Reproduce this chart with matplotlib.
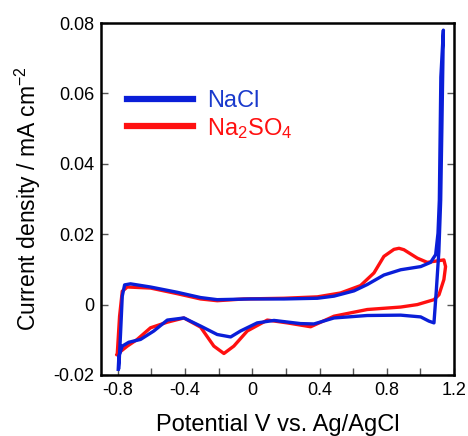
import numpy as np
import matplotlib
matplotlib.use("Agg")
import matplotlib.pyplot as plt
from matplotlib.ticker import MultipleLocator

# NaCl cyclic voltammogram (potential V vs Ag/AgCl, current density mA cm-2)
nacl_v = [-0.794, -0.784, -0.774, -0.760, -0.725, -0.606, -0.447, -0.308, -0.209, -0.010,
          0.188, 0.387, 0.486, 0.605, 0.684, 0.783, 0.883, 1.002, 1.061, 1.091, 1.105,
          1.113, 1.122, 1.137,
          1.128, 1.121, 1.110, 1.095, 1.081, 1.051, 1.002, 0.883, 0.684, 0.486, 0.367,
          0.287, 0.129, 0.029, -0.070, -0.129, -0.209, -0.308, -0.407, -0.506, -0.586,
          -0.665, -0.735, -0.774, -0.794, -0.798]
nacl_i = [-0.0179, -0.0080, 0.0024, 0.0056, 0.0059, 0.0050, 0.0035, 0.0020, 0.0014, 0.0016,
          0.0016, 0.0018, 0.0024, 0.0039, 0.0057, 0.0084, 0.0099, 0.0108, 0.0120, 0.0142, 0.0203,
          0.0297, 0.0647, 0.0780,
          0.0500, 0.0297, 0.0150, 0.0040, -0.0052, -0.0047, -0.0035, -0.0030, -0.0031, -0.0038, -0.0055,
          -0.0054, -0.0045, -0.0052, -0.0075, -0.0092, -0.0085, -0.0061, -0.0038, -0.0044, -0.0075,
          -0.0099, -0.0107, -0.0118, -0.0146, -0.0184]

# Na2SO4 cyclic voltammogram
na2so4_v = [-0.804, -0.790, -0.774, -0.744, -0.606, -0.447, -0.308, -0.209, -0.050, 0.188,
            0.387, 0.525, 0.644, 0.724, 0.783, 0.843, 0.873, 0.902, 0.982, 1.041, 1.140, 1.150,
            1.140, 1.111, 1.081, 0.982, 0.883, 0.684, 0.486, 0.347, 0.208, 0.089, -0.030,
            -0.110, -0.169, -0.229, -0.308, -0.407, -0.506, -0.606, -0.685, -0.744, -0.794, -0.804]
na2so4_i = [-0.0142, -0.0033, 0.0038, 0.0050, 0.0047, 0.0031, 0.0016, 0.0011, 0.0016, 0.0018,
            0.0022, 0.0033, 0.0054, 0.0090, 0.0137, 0.0157, 0.0160, 0.0156, 0.0132, 0.0120, 0.0127, 0.0108,
            0.0071, 0.0028, 0.0014, 0.0000, -0.0007, -0.0014, -0.0033, -0.0063, -0.0052, -0.0044, -0.0075,
            -0.0118, -0.0139, -0.0118, -0.0064, -0.0038, -0.0050, -0.0066, -0.0099, -0.0118, -0.0137, -0.0142]

xticks = [-0.8, -0.4, 0, 0.4, 0.8, 1.2]
xtick_labels = ["-0.8", "-0.4", "0", "0.4", "0.8", "1.2"]
yticks = [-0.02, 0, 0.02, 0.04, 0.06, 0.08]
ytick_labels = ["-0.02", "0", "0.02", "0.04", "0.06", "0.08"]

blue = "#0a1ed8"
red = "#ff1010"

plt.rcParams["font.family"] = ["Liberation Sans", "DejaVu Sans"]
plt.rcParams["mathtext.default"] = "regular"

fig = plt.figure(figsize=(4.68, 4.36), dpi=100)
ax = fig.add_axes([0.216, 0.140, 0.754, 0.807])

ax.plot(na2so4_v, na2so4_i, color=red, lw=2.4, solid_joinstyle="round", label="Na$_2$SO$_4$", zorder=2)
ax.plot(nacl_v, nacl_i, color=blue, lw=2.4, solid_joinstyle="round", label="NaCl", zorder=3)

ax.set_xlim(-0.9, 1.2)
ax.set_ylim(-0.02, 0.08)
ax.set_xticks(xticks)
ax.set_xticklabels(xtick_labels)
ax.set_yticks(yticks)
ax.set_yticklabels(ytick_labels)
ax.xaxis.set_minor_locator(MultipleLocator(0.2))
ax.tick_params(which="both", direction="in", length=5, width=1, color="#555555",
               labelsize=13, right=True, top=False, pad=5)

for s in ax.spines.values():
    s.set_linewidth(1.8)

ax.set_xlabel("Potential V vs. Ag/AgCl", fontsize=17, labelpad=11)
ax.set_ylabel("Current density / mA cm$^{-2}$", fontsize=16.5, labelpad=7)

h, l = ax.get_legend_handles_labels()
leg = ax.legend(h[::-1], l[::-1], loc="upper left", bbox_to_anchor=(0.012, 0.87),
                frameon=False, fontsize=17, handlelength=2.8, handletextpad=0.6,
                labelspacing=0.15)
for line, txt, c in zip(leg.get_lines(), leg.get_texts(), ["#1a3acc", red]):
    line.set_linewidth(4.5)
    txt.set_color(c)

fig.savefig("out.png", dpi=100)
